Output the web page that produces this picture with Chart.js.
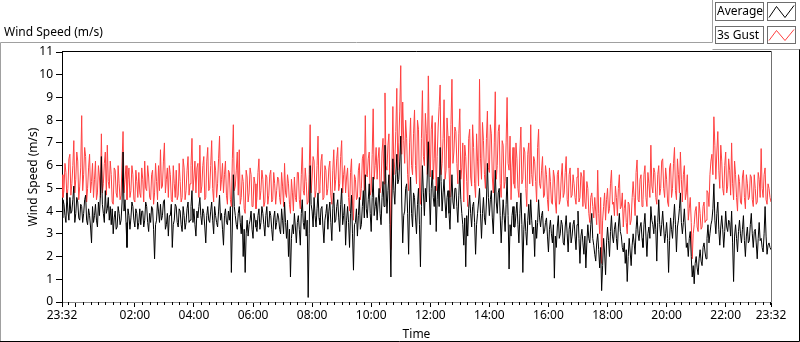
<!DOCTYPE html>
<html><head><meta charset="utf-8">
<script src="https://cdn.jsdelivr.net/npm/chart.js@4/dist/chart.umd.min.js"></script>
<style>html,body{margin:0;padding:0;background:#fff;overflow:hidden}canvas{display:block}</style>
</head><body>
<canvas id="c" width="800" height="342"></canvas>
<script>
const FONT = "'Noto Sans', 'Open Sans', sans-serif";
const STEP_MINUTES = 2; // minutes between samples, starting 23:32
const seriesNames = ["Average", "3s Gust"];
const chartTitle = "Wind Speed (m/s)";
const yAxisTitle = "Wind Speed (m/s)";
const xAxisTitle = "Time";

const averageSpeed = [
3.7,4.5,4.3,3.8,3.5,4.8,4.0,3.6,4.6,3.9, 4.0,4.5,5.1,3.5,3.9,4.6,4.4,3.7,3.6,4.3,
4.2,3.5,3.9,4.5,4.7,3.6,3.4,4.1,3.8,3.3, 2.6,4.2,3.5,3.8,4.3,3.6,3.3,4.4,3.8,4.7,
6.4,4.3,3.9,3.5,4.9,3.9,4.1,4.6,3.6,4.2, 3.4,4.1,3.0,3.7,4.0,3.2,3.3,4.2,3.9,3.4,
3.6,4.4,6.6,4.0,4.5,3.5,2.4,4.1,3.8,3.2, 3.7,4.4,4.2,3.6,3.3,4.1,3.9,3.2,3.5,4.1,
3.4,4.0,4.0,3.3,3.6,4.4,4.2,3.5,3.1,3.9, 3.5,4.2,4.1,3.2,1.9,3.4,3.6,4.4,4.0,3.5,
4.3,3.6,3.8,4.4,4.5,3.2,3.4,3.9,2.9,3.8, 3.8,4.3,2.4,3.4,3.6,4.3,4.2,3.5,3.3,4.1,
4.0,3.4,3.1,4.2,3.8,3.2,3.5,4.1,4.4,3.5, 3.6,4.2,4.9,3.5,4.1,3.4,2.9,4.0,3.7,4.2,
4.6,3.8,3.4,4.1,3.9,3.3,2.6,3.8,4.2,3.6, 3.5,4.0,4.4,3.6,3.0,4.2,3.8,3.5,3.3,4.0,
4.7,3.6,3.9,3.2,2.5,3.8,4.1,3.5,3.4,4.0, 3.6,4.2,1.3,3.3,5.6,4.2,3.8,3.4,3.2,3.9,
4.2,3.5,3.0,3.8,2.0,3.2,1.3,3.0,3.6,2.9, 3.4,3.6,4.0,3.2,2.8,3.9,3.6,3.3,3.1,3.8,
4.1,3.2,3.5,4.2,3.9,3.4,2.9,3.8,4.2,3.3, 3.3,4.0,3.8,3.2,2.7,3.7,4.0,3.2,3.5,3.9,
3.7,3.2,3.0,4.1,3.6,3.0,4.4,3.5,2.8,3.6, 2.0,3.2,1.1,2.8,3.4,3.0,3.9,3.3,2.6,3.5,
3.8,3.2,2.5,3.9,4.5,3.5,3.2,4.0,2.9,3.6, 0.2,3.0,6.0,4.3,4.0,3.3,4.6,3.8,3.3,4.1,
4.8,3.7,3.4,4.1,4.2,3.3,2.6,3.6,3.9,4.3, 3.2,4.0,4.4,3.5,2.7,4.1,4.8,3.5,3.6,4.2,
4.5,3.7,3.1,4.3,5.0,3.4,3.8,4.3,2.5,3.6, 4.2,3.5,2.4,3.9,4.7,3.0,1.4,3.4,3.5,4.1,
2.9,3.8,4.6,3.2,3.4,4.2,4.9,3.7,5.6,4.1, 3.7,4.5,5.2,3.9,3.1,4.6,5.5,3.8,4.2,4.6,
3.6,4.4,5.0,3.9,3.4,4.6,5.3,4.2,6.9,5.2, 3.9,4.9,5.6,3.4,1.1,4.4,6.3,4.9,4.3,5.6,
6.5,5.2,5.4,6.2,7.3,4.4,2.6,3.8,4.0,5.0, 5.2,3.9,2.1,4.4,5.5,3.9,3.3,4.8,4.6,3.7,
3.0,4.3,5.0,3.4,1.55,4.2,6.0,4.8,3.8,5.0, 4.4,5.6,7.05,4.8,3.4,5.0,5.8,4.6,4.2,5.1,
3.1,4.5,5.5,4.2,6.8,5.3,4.0,4.8,5.4,4.4, 3.7,4.6,4.9,3.9,3.2,4.6,5.6,4.4,4.1,5.0,
5.0,4.2,3.5,4.7,5.8,4.5,3.9,3.4,2.5,3.7, 1.55,3.8,2.9,4.1,4.7,3.9,3.3,4.2,4.4,3.5,
2.1,3.4,3.9,4.4,5.0,3.9,2.8,3.9,4.6,3.7, 3.4,4.4,6.1,4.6,3.8,4.5,4.9,3.7,3.0,4.4,
5.8,4.4,3.9,4.8,5.0,3.8,2.6,3.6,4.5,3.8, 3.1,4.3,5.5,3.8,1.45,3.4,2.9,3.8,4.2,3.3,
3.3,3.9,4.4,3.4,2.6,3.9,4.8,3.4,1.3,3.2, 3.9,3.1,2.5,3.6,4.3,3.4,4.5,3.6,3.0,3.3,
2.0,3.6,2.8,3.5,4.5,3.7,3.3,3.8,4.0,3.0, 3.1,3.5,3.7,2.9,2.2,3.2,3.6,3.0,2.6,3.4,
1.05,2.9,2.4,3.3,3.8,2.8,3.0,3.6,3.4,2.6, 2.5,3.3,3.8,3.0,2.2,3.2,3.5,2.6,2.9,3.4,
3.6,2.9,2.3,3.4,4.0,2.8,1.7,2.9,3.2,2.6, 2.1,2.9,1.5,2.6,3.4,2.8,2.6,3.4,3.9,2.8,
2.5,2.1,1.8,2.6,3.0,2.3,1.5,2.4,0.5,1.6, 2.8,2.2,1.2,2.6,3.3,2.7,2.0,3.1,3.8,2.9,
2.6,3.2,3.5,2.8,2.3,3.3,3.9,3.1,2.9,2.4, 2.2,2.6,1.7,2.3,0.9,2.0,2.8,2.2,1.6,2.5,
3.0,2.6,2.1,3.2,3.8,3.0,2.7,3.3,3.5,2.8, 2.4,3.4,3.9,2.9,2.0,3.0,3.3,2.8,4.2,3.6,
3.4,3.0,3.8,3.2,1.8,3.5,4.5,3.4,2.9,3.4, 4.0,3.3,2.6,3.0,3.5,2.8,1.3,2.7,3.7,3.2,
2.8,3.6,4.3,3.4,2.2,3.3,3.6,4.1,4.8,3.5, 3.0,3.5,4.1,3.3,2.4,2.6,2.0,2.8,3.1,2.0,
1.1,1.6,0.8,1.7,2.0,1.5,1.2,1.9,2.3,1.8, 1.6,2.4,2.6,2.2,1.9,2.8,3.4,2.6,3.0,3.4,
3.6,4.1,5.2,3.6,3.0,3.9,4.4,3.2,2.5,3.3, 3.8,3.2,2.4,3.1,4.0,3.3,3.1,3.6,3.5,2.9,
4.0,2.6,0.9,2.9,3.4,2.8,2.2,3.1,3.6,3.0, 2.6,3.2,3.8,2.7,2.0,2.9,3.3,2.6,2.7,3.4,
3.9,3.0,2.4,3.1,3.2,2.6,1.9,2.8,3.5,2.7, 2.8,2.4,2.2,3.0,4.2,2.9,2.1,2.5,2.6,2.4,
2.3];

const gustSpeed = [
5.6,4.6,4.9,6.1,5.7,4.5,5.0,6.3,6.5,4.7, 5.2,6.0,7.1,4.8,5.4,6.6,6.2,4.5,5.1,5.9,
8.2,4.9,5.6,6.8,6.4,4.4,5.0,5.9,6.5,4.8, 5.3,6.1,4.6,5.4,6.2,4.5,4.8,6.0,5.5,4.6,
7.4,4.8,5.2,6.1,6.6,4.7,6.9,5.3,5.0,6.2, 5.6,4.4,4.3,5.9,5.8,4.8,4.6,6.0,5.2,4.5,
4.7,6.2,7.5,4.8,5.4,6.0,4.5,5.4,5.9,4.6, 4.9,6.0,5.6,4.5,4.4,5.8,5.3,4.6,5.7,4.8,
4.6,5.9,5.4,4.4,6.2,5.0,4.9,6.0,5.5,4.6, 4.5,5.6,5.8,4.3,4.8,6.1,5.3,4.5,6.0,4.9,
6.7,5.0,5.1,6.2,7.0,4.8,5.4,5.9,4.6,6.0, 5.6,4.5,4.4,6.0,5.2,4.6,5.8,4.5,4.7,6.1,
5.3,4.4,4.6,6.3,5.9,4.5,4.9,5.8,6.4,4.7, 5.2,6.0,7.2,4.9,5.5,6.2,4.8,5.9,6.1,4.6,
6.9,4.8,5.1,6.0,6.4,4.5,4.6,6.2,6.8,4.9, 5.0,6.0,7.1,5.0,4.4,6.2,5.8,4.6,5.2,6.3,
7.3,4.9,5.4,6.1,4.8,5.6,6.2,4.7,4.3,5.8, 5.7,4.5,4.2,6.3,7.8,4.9,5.1,5.8,6.6,4.7,
6.7,4.3,4.6,5.6,5.3,4.1,3.9,5.8,5.5,4.4, 4.8,5.9,5.6,4.2,4.2,5.5,5.2,4.1,4.6,5.7,
6.3,4.5,4.9,5.8,5.4,4.2,4.4,5.6,5.5,4.3, 4.7,5.6,5.8,4.4,4.5,5.7,5.2,4.3,4.9,5.5,
5.4,4.6,4.3,5.7,5.1,4.2,6.1,4.8,4.6,5.6, 5.2,4.3,3.9,5.4,4.8,4.0,5.5,4.6,4.4,5.7,
5.7,4.5,4.1,5.6,6.8,4.9,4.7,5.9,5.3,4.3, 4.4,5.6,7.8,4.8,5.5,6.4,6.2,4.6,4.9,6.0,
7.3,4.8,5.1,6.2,6.5,4.5,4.6,6.0,5.8,4.7, 5.0,5.9,6.2,4.7,4.3,5.8,6.7,4.9,5.4,6.3,
6.8,4.9,5.2,6.4,7.1,4.8,5.6,6.0,4.8,5.5, 5.9,4.6,4.0,5.7,6.3,4.4,3.6,5.6,5.4,4.5,
4.6,5.8,6.1,4.5,5.0,6.3,6.5,4.9,8.2,5.6, 5.5,6.3,6.6,4.7,4.9,6.5,8.5,5.4,6.0,6.8,
5.4,6.3,6.8,4.8,5.1,6.6,7.2,5.2,9.2,6.0, 5.8,6.9,7.4,5.0,2.3,5.9,8.6,5.6,6.2,7.5,
9.4,5.8,7.0,8.4,10.4,6.5,8.8,7.1,6.1,8.0, 7.2,5.6,4.9,7.0,8.1,6.0,5.6,7.4,8.45,6.0,
5.2,8.0,7.6,5.1,4.3,7.2,9.3,6.4,6.0,8.3, 7.4,5.6,9.95,7.0,5.5,7.6,8.2,5.4,6.3,7.9,
4.9,6.4,7.7,8.6,9.55,5.6,6.1,7.2,8.9,5.4, 5.8,8.1,7.3,5.9,4.6,7.8,9.8,6.1,6.6,7.7,
7.5,6.1,5.2,7.4,8.5,5.4,5.9,7.0,4.4,6.9, 6.4,5.3,4.2,7.2,7.6,5.5,5.1,7.8,6.8,5.2,
4.6,7.4,6.2,5.1,9.8,6.3,5.4,7.9,7.1,5.6, 5.0,7.2,8.4,5.9,5.7,7.8,7.4,5.5,4.8,7.0,
9.25,5.4,6.0,7.5,7.8,5.2,4.6,7.1,6.9,5.0, 5.3,7.0,9.0,6.1,5.8,7.3,4.5,5.9,6.8,5.2,
5.0,7.0,6.3,5.0,4.6,6.6,7.7,5.2,5.4,6.8, 6.6,5.0,4.2,6.5,7.0,5.2,7.8,5.6,5.1,6.4,
6.2,5.3,4.4,6.8,7.6,5.2,5.0,5.8,6.4,4.6, 4.7,6.0,5.6,4.5,4.0,5.9,5.3,4.4,4.3,5.8,
5.5,4.4,3.9,5.6,5.8,4.3,4.5,5.5,6.1,4.6, 4.8,5.7,6.4,4.5,4.2,5.6,5.9,4.6,4.7,5.6,
5.2,4.6,4.3,5.5,5.9,4.4,4.6,5.7,5.5,4.2, 5.8,4.4,4.1,5.3,5.0,3.9,3.5,4.6,4.8,4.2,
3.7,4.6,4.0,3.4,5.8,3.9,3.0,4.6,1.7,3.6, 4.2,4.8,3.6,4.5,5.0,3.9,4.1,5.2,5.8,4.3,
4.4,3.8,5.1,4.6,3.8,5.0,5.6,4.1,4.2,4.8, 3.3,4.1,4.5,3.5,3.0,4.4,4.3,3.4,3.6,4.6,
5.3,4.6,3.8,5.7,6.25,4.5,4.4,5.4,5.6,4.2, 4.5,5.6,6.0,4.6,4.2,5.7,5.2,4.6,6.9,5.1,
4.8,5.9,5.7,4.6,4.3,5.6,6.0,4.7,5.0,6.2, 6.3,5.0,4.6,5.9,5.4,4.4,4.2,5.9,6.1,4.6,
5.0,6.1,6.8,4.9,4.5,6.3,5.6,4.8,6.6,5.4, 4.4,5.6,6.0,4.5,4.8,5.6,3.6,4.1,4.6,3.5,
1.9,3.0,3.4,4.0,4.2,3.3,3.1,4.4,3.9,3.2, 3.3,4.2,4.4,3.5,3.6,4.9,4.8,4.2,5.6,6.2,
6.5,5.6,8.15,6.9,5.4,6.6,7.5,5.8,5.0,6.9, 6.2,5.0,4.7,6.0,6.6,4.8,5.1,6.3,5.8,4.7,
7.0,5.2,4.5,6.2,5.6,4.6,4.0,5.6,5.3,4.4, 4.3,5.5,5.8,4.6,4.1,5.6,5.2,4.5,4.6,5.6,
5.5,4.5,4.2,5.6,5.0,4.3,4.4,5.7,5.4,4.6, 6.75,5.0,4.6,5.6,5.9,4.5,4.3,5.2,5.0,4.6,
4.4];

const yTickValues = [0,1,2,3,4,5,6,7,8,9,10,11];
const xTickMinutes = [0,28,148,268,388,508,628,748,868,988,1108,1228,1348,1440];
const xTickLabels = ["23:32","","02:00","04:00","06:00","08:00","10:00","12:00","14:00","16:00","18:00","20:00","22:00","23:32"];

const toPoints = arr => arr.map((v,i)=>({x:i*STEP_MINUTES, y:v}));

const decor = {
  id: 'decor',
  afterDraw(chart) {
    const ctx = chart.ctx, ca = chart.chartArea, xs = chart.scales.x;
    ctx.save();
    ctx.lineWidth = 1;
    ctx.strokeStyle = '#000';
    ctx.beginPath();
    for (let m = 13; m < 1440; m += 15) {
      if (xTickMinutes.includes(m)) continue;
      const px = Math.round(xs.getPixelForValue(m)) + 0.5;
      ctx.moveTo(px, ca.bottom); ctx.lineTo(px, ca.bottom + 3);
    }
    ctx.stroke();
    ctx.beginPath(); ctx.strokeStyle = '#000';
    ctx.moveTo(ca.left, Math.round(ca.top)-0.5); ctx.lineTo(Math.round(ca.right)+0.5, Math.round(ca.top)-0.5);
    ctx.stroke();
    ctx.beginPath(); ctx.strokeStyle = '#707070';
    ctx.moveTo(Math.round(ca.right)+0.5, Math.round(ca.top)-0.5); ctx.lineTo(Math.round(ca.right)+0.5, ca.bottom);
    ctx.stroke();
    ctx.strokeStyle = '#a0a0a0';
    ctx.beginPath();
    ctx.moveTo(0.5, 342); ctx.lineTo(0.5, 42.5); ctx.lineTo(712.5, 42.5); ctx.lineTo(712.5, 0);
    ctx.moveTo(712.5, 49.5); ctx.lineTo(800, 49.5);
    ctx.stroke();
    ctx.strokeStyle = '#000';
    ctx.beginPath();
    ctx.moveTo(0, 341.5); ctx.lineTo(799.5, 341.5); ctx.lineTo(799.5, 49.5);
    ctx.stroke();
    ctx.fillStyle = '#000';
    ctx.font = '12px ' + FONT;
    ctx.textBaseline = 'alphabetic';
    ctx.textAlign = 'left';
    ctx.fillText(chartTitle, 4, 36);
    const rows = [{y:2.5,h:18,color:'#000'},{y:26.5,h:17,color:'#ff4040'}];
    rows.forEach((r,i)=>{
      ctx.fillStyle = '#fff';
      ctx.fillRect(715.5, r.y, 48, r.h); ctx.fillRect(767.5, r.y, 28, r.h);
      ctx.strokeStyle = '#6e6e6e';
      ctx.strokeRect(715.5, r.y, 48, r.h); ctx.strokeRect(767.5, r.y, 28, r.h);
      ctx.fillStyle = '#000';
      ctx.textBaseline = 'middle';
      ctx.fillText(seriesNames[i], 717, r.y + r.h/2 + 0.5);
      ctx.strokeStyle = r.color;
      ctx.beginPath();
      ctx.moveTo(769, r.y + r.h - 3); ctx.lineTo(776.5, r.y + 4); ctx.lineTo(785, r.y + r.h - 3); ctx.lineTo(794, r.y + 3);
      ctx.stroke();
    });
    ctx.restore();
  }
};

new Chart(document.getElementById('c'), {
  type: 'line',
  data: {
    datasets: [
      {label: seriesNames[0], data: toPoints(averageSpeed), borderColor:'#000', borderWidth:1, pointRadius:0, tension:0},
      {label: seriesNames[1], data: toPoints(gustSpeed), borderColor:'#ff4040', borderWidth:1, pointRadius:0, tension:0}
    ]
  },
  options: {
    responsive:false, animation:false, devicePixelRatio:1,
    layout:{padding:{top:52,right:29,left:0,bottom:0}},
    plugins:{legend:{display:false}, tooltip:{enabled:false}, title:{display:false}},
    scales:{
      x:{
        type:'linear', min:0, max:1440,
        afterBuildTicks: s => { s.ticks = xTickMinutes.map(v=>({value:v})); },
        afterFit: s => { s.height = 40; },
        ticks:{autoSkip:false, maxRotation:0, color:'#000', font:{family:FONT,size:12}, padding:1,
               callback:(v,i)=>xTickLabels[i]},
        grid:{drawOnChartArea:false, drawTicks:true, tickLength:5, color:'#000'},
        border:{display:true, color:'#8c8c8c'},
        title:{display:true, text:xAxisTitle, color:'#000', font:{family:FONT,size:12}, padding:{top:0,bottom:0}}
      },
      y:{
        min:0, max:11,
        afterBuildTicks: s => { s.ticks = yTickValues.map(v=>({value:v})); },
        afterFit: s => { s.width = 62; },
        ticks:{autoSkip:false, color:'#000', font:{family:FONT,size:12}, padding:3},
        grid:{drawOnChartArea:false, drawTicks:true, tickLength:6, color:'#000'},
        border:{display:true, color:'#000'},
        title:{display:true, text:yAxisTitle, color:'#000', font:{family:FONT,size:12}, padding:{top:26,bottom:0}}
      }
    }
  },
  plugins:[decor]
});
</script>
</body></html>
